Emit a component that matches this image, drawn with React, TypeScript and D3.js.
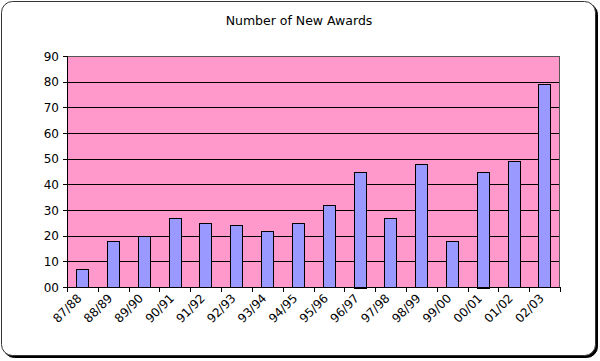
import React from "react";
import * as d3 from "d3";

const categories = ["87/88","88/89","89/90","90/91","91/92","92/93","93/94","94/95","95/96","96/97","97/98","98/99","99/00","00/01","01/02","02/03"];
const awards = [7,18,20,27,25,24,22,25,32,45,27,48,18,45,49,79];
const yTicks = [0,10,20,30,40,50,60,70,80,90];
const yTickLabels = ["00","10","20","30","40","50","60","70","80","90"];
const title = "Number of New Awards";

const W = 600, H = 361;
const plot = { left: 67, right: 560, top: 56, bottom: 287 };

export default function App() {
  const x = d3.scaleBand<string>().domain(categories).range([plot.left, plot.right]).paddingInner(0).paddingOuter(0);
  const y = d3.scaleLinear().domain([0, 90]).range([plot.bottom, plot.top]);
  const bw = x.bandwidth() / 2.5;
  const font = "'DejaVu Sans', Verdana, sans-serif";
  const boundaries = categories.map((c) => x(c)!).concat([plot.right]);
  return (
    <svg width={W} height={H} style={{ position: "absolute", left: 0, top: 0 }} fontFamily={font}>
      <rect x={3.5} y={3.5} width={594} height={354} rx={11} fill="#000" stroke="#000" strokeWidth={1} />
      <rect x={1.5} y={1.5} width={594} height={354} rx={11} fill="#fff" stroke="#333" strokeWidth={1} />
      <text x={299} y={25} textAnchor="middle" fontSize={12.5} fill="#000">{title}</text>
      <rect x={plot.left} y={plot.top} width={plot.right - plot.left} height={plot.bottom - plot.top} fill="#FF99CC" />
      {yTicks.filter((t) => t > 0).map((t) => (
        <line key={t} x1={plot.left} x2={plot.right} y1={Math.round(y(t)) + 0.5} y2={Math.round(y(t)) + 0.5} stroke="#000" strokeWidth={1} />
      ))}
      <rect x={plot.left + 0.5} y={plot.top + 0.5} width={plot.right - plot.left - 1} height={plot.bottom - plot.top} fill="none" stroke="#555" strokeWidth={1} />
      {categories.map((c, i) => {
        const cx = x(c)! + x.bandwidth() / 2;
        const y0 = y(awards[i]);
        return (
          <rect key={c} x={Math.round(cx - bw / 2) + 0.5} y={Math.round(y0) + 0.5} width={Math.round(bw)} height={Math.round(plot.bottom - y0)} fill="#9999FF" stroke="#000" strokeWidth={1} />
        );
      })}
      <line x1={plot.left + 0.5} x2={plot.left + 0.5} y1={plot.top} y2={plot.bottom} stroke="#000" />
      <line x1={plot.left} x2={plot.right} y1={plot.bottom + 0.5} y2={plot.bottom + 0.5} stroke="#000" />
      {yTicks.map((t, i) => (
        <g key={t}>
          <line x1={plot.left - 4} x2={plot.left} y1={Math.round(y(t)) + 0.5} y2={Math.round(y(t)) + 0.5} stroke="#000" />
          <text x={plot.left - 8} y={y(t) + 4.5} textAnchor="end" fontSize={12} fill="#000">{yTickLabels[i]}</text>
        </g>
      ))}
      {boundaries.map((b, i) => (
        <line key={i} x1={Math.round(b) + 0.5} x2={Math.round(b) + 0.5} y1={plot.bottom} y2={plot.bottom + 5} stroke="#000" />
      ))}
      {categories.map((c) => {
        const cx = x(c)! + x.bandwidth() / 2;
        return (
          <text key={c} transform={`translate(${cx},${plot.bottom + 12}) rotate(-45)`} textAnchor="end" fontSize={12} fill="#000">{c}</text>
        );
      })}
    </svg>
  );
}
